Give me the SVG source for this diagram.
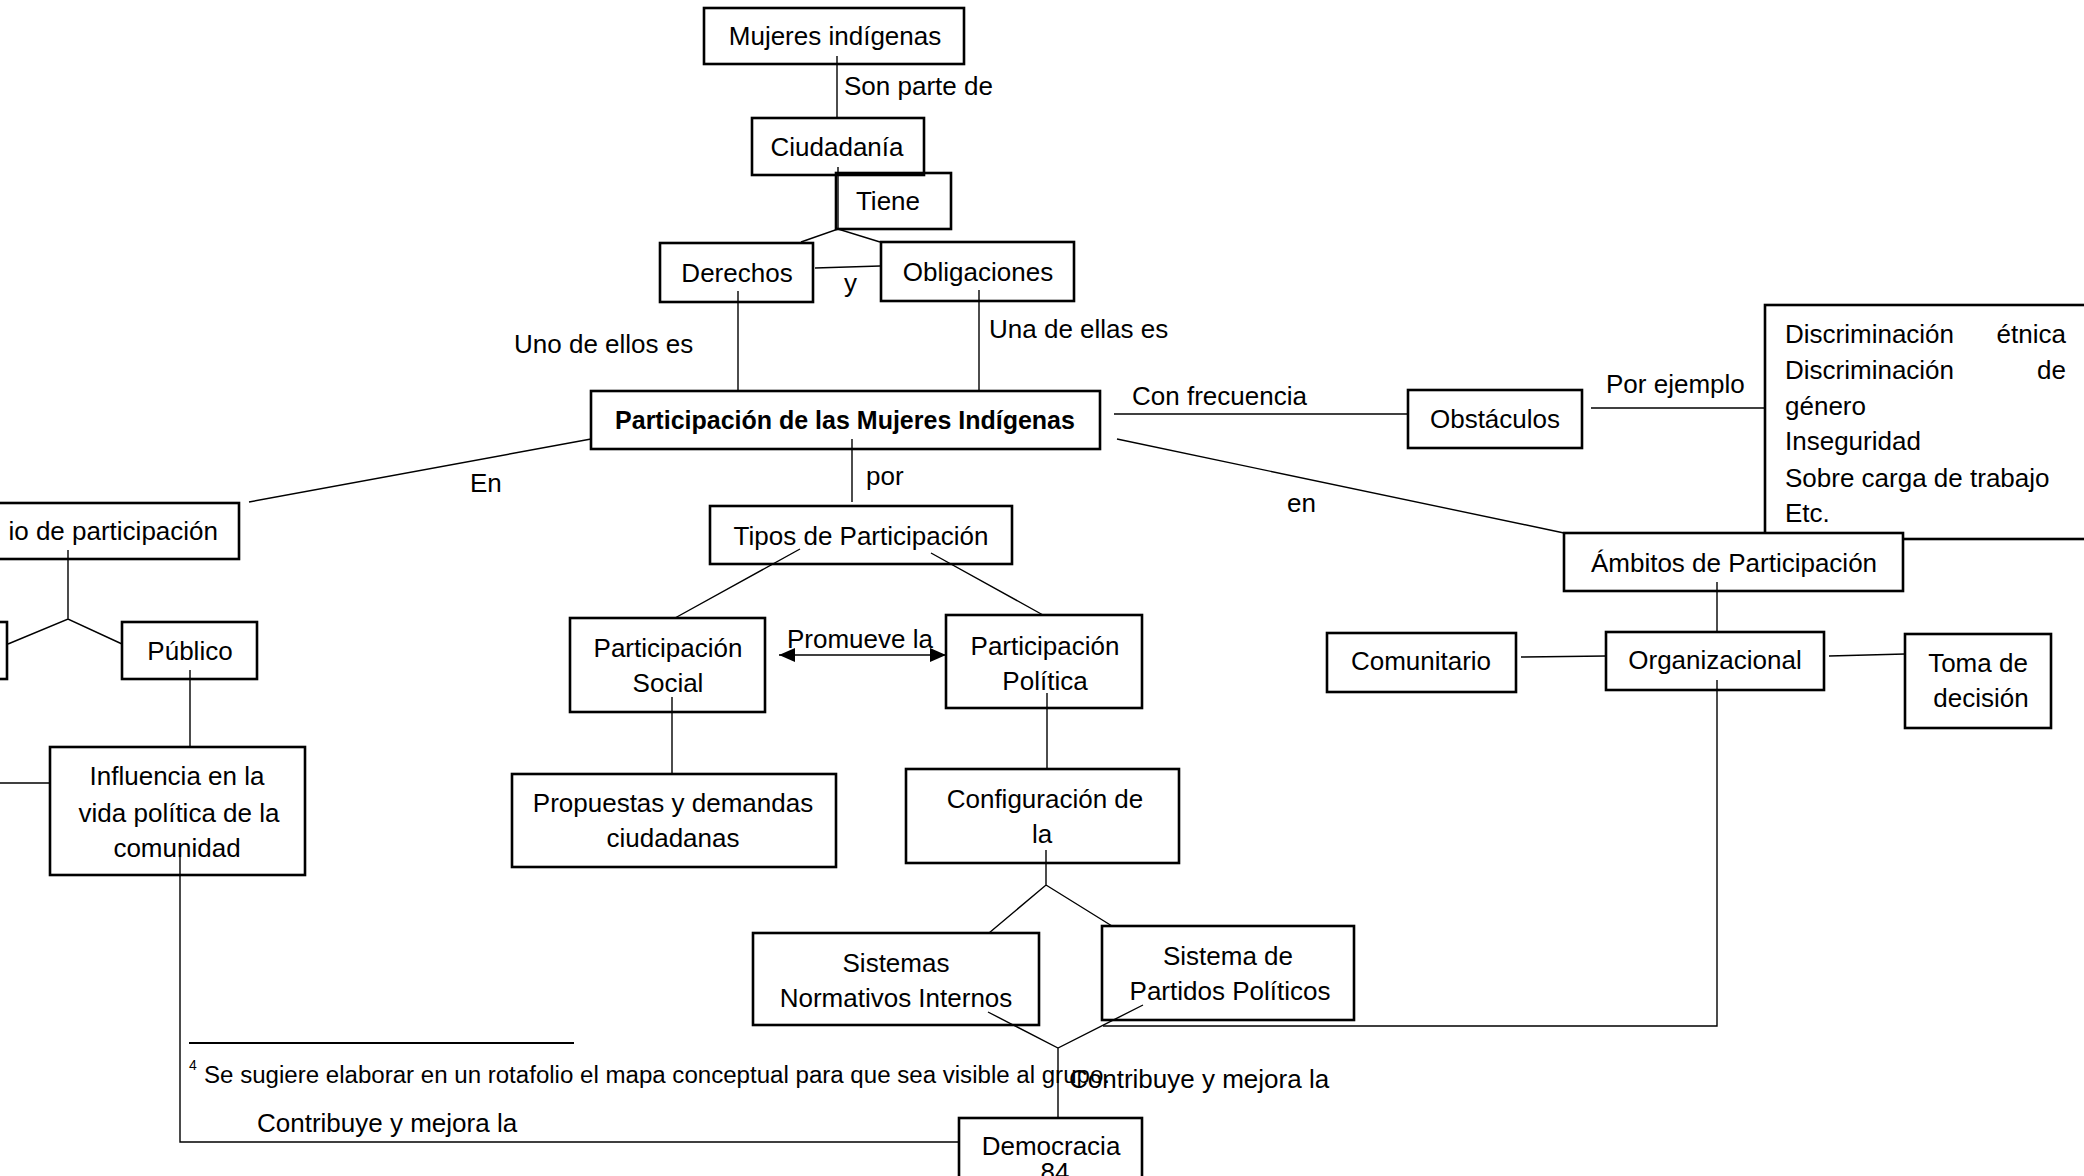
<svg xmlns="http://www.w3.org/2000/svg" width="2084" height="1176" viewBox="0 0 2084 1176">
<style>
text{font-family:"Liberation Sans",Arial,sans-serif;font-size:26px;fill:#000}
.c{text-anchor:middle}
.b{font-weight:bold;font-size:25px}
.box{fill:#fff;stroke:#000;stroke-width:2.6}
.ln{fill:none;stroke:#000;stroke-width:1.4}
.fn{font-size:23px}
</style>
<defs>
<marker id="ah" viewBox="0 0 16 14" refX="16" refY="7" markerWidth="16" markerHeight="14" markerUnits="userSpaceOnUse" orient="auto-start-reverse">
<path d="M0,0 L16,7 L0,14 Z" fill="#000"/>
</marker>
</defs>
<rect x="0" y="0" width="2084" height="1176" fill="#fff"/>

<g id="n-mujeres"><rect class="box" x="704" y="8" width="260" height="56"/><text class="c" x="835" y="45">Mujeres indígenas</text></g>
<g id="n-ciudadania"><rect class="box" x="752" y="118" width="172" height="57"/><text class="c" x="837" y="156">Ciudadanía</text></g>
<g id="n-tiene"><rect class="box" x="836" y="173" width="115" height="56" style="fill:none"/><text class="c" x="888" y="210">Tiene</text></g>
<g id="n-derechos"><rect class="box" x="660" y="243" width="153" height="59"/><text class="c" x="737" y="282">Derechos</text></g>
<g id="n-obligaciones"><rect class="box" x="881" y="242" width="193" height="59"/><text class="c" x="978" y="281">Obligaciones</text></g>
<g id="n-participacion"><rect class="box" x="591" y="391" width="509" height="58"/><text class="c b" x="845" y="429">Participación de las Mujeres Indígenas</text></g>
<g id="n-espacio"><rect class="box" x="-60" y="503" width="299" height="56"/><text x="218" y="540" text-anchor="end">io de participación</text></g>
<g id="n-privado"><rect class="box" x="-100" y="622" width="107" height="57"/></g>
<g id="n-publico"><rect class="box" x="122" y="622" width="135" height="57"/><text class="c" x="190" y="660">Público</text></g>
<g id="n-influencia"><rect class="box" x="50" y="747" width="255" height="128"/><text class="c" x="177" y="785">Influencia en la</text><text class="c" x="179" y="822">vida política de la</text><text class="c" x="177" y="857">comunidad</text></g>
<g id="n-tipos"><rect class="box" x="710" y="506" width="302" height="58"/><text class="c" x="861" y="545">Tipos de Participación</text></g>
<g id="n-social"><rect class="box" x="570" y="618" width="195" height="94"/><text class="c" x="668" y="657">Participación</text><text class="c" x="668" y="692">Social</text></g>
<g id="n-politica"><rect class="box" x="946" y="615" width="196" height="93"/><text class="c" x="1045" y="655">Participación</text><text class="c" x="1045" y="690">Política</text></g>
<g id="n-propuestas"><rect class="box" x="512" y="774" width="324" height="93"/><text class="c" x="673" y="812">Propuestas y demandas</text><text class="c" x="673" y="847">ciudadanas</text></g>
<g id="n-configuracion"><rect class="box" x="906" y="769" width="273" height="94"/><text class="c" x="1045" y="808">Configuración de</text><text class="c" x="1042" y="843">la</text></g>
<g id="n-sistemas"><rect class="box" x="753" y="933" width="286" height="92"/><text class="c" x="896" y="972">Sistemas</text><text class="c" x="896" y="1007">Normativos Internos</text></g>
<g id="n-partidos"><rect class="box" x="1102" y="926" width="252" height="94"/><text class="c" x="1228" y="965">Sistema de</text><text class="c" x="1230" y="1000">Partidos Políticos</text></g>
<g id="n-democracia"><rect class="box" x="959" y="1118" width="183" height="80"/><text class="c" x="1051" y="1155">Democracia</text><text class="c" x="1055" y="1181">84</text></g>
<g id="n-obstaculos"><rect class="box" x="1408" y="390" width="174" height="58"/><text class="c" x="1495" y="428">Obstáculos</text></g>
<g id="n-lista"><rect class="box" x="1765" y="305" width="340" height="234"/>
<text x="1785" y="343">Discriminación</text><text x="2066" y="343" text-anchor="end">étnica</text>
<text x="1785" y="379">Discriminación</text><text x="2066" y="379" text-anchor="end">de</text>
<text x="1785" y="415">género</text>
<text x="1785" y="450">Inseguridad</text>
<text x="1785" y="487">Sobre carga de trabajo</text>
<text x="1785" y="522">Etc.</text></g>
<g id="n-ambitos"><rect class="box" x="1564" y="533" width="339" height="58"/><text class="c" x="1734" y="572">Ámbitos de Participación</text></g>
<g id="n-comunitario"><rect class="box" x="1327" y="633" width="189" height="59"/><text class="c" x="1421" y="670">Comunitario</text></g>
<g id="n-organizacional"><rect class="box" x="1606" y="632" width="218" height="58"/><text class="c" x="1715" y="669">Organizacional</text></g>
<g id="n-toma"><rect class="box" x="1905" y="634" width="146" height="94"/><text class="c" x="1978" y="672">Toma de</text><text class="c" x="1981" y="707">decisión</text></g>

<g id="connectors">
<path class="ln" d="M837,56 V119"/>
<path class="ln" d="M838,167 V229 M801,242 L838,229 L880,242"/>
<path class="ln" d="M815,268 L880,266"/>
<path class="ln" d="M738,291 V391"/>
<path class="ln" d="M979,290 V391"/>
<path class="ln" d="M591,439 L249,502"/>
<path class="ln" d="M852,439 V502"/>
<path class="ln" d="M1114,414 H1408"/>
<path class="ln" d="M1591,408 H1765"/>
<path class="ln" d="M1117,439 L1564,533"/>
<path class="ln" d="M68,550 V619 M8,644 L68,619 L122,644"/>
<path class="ln" d="M190,670 V747"/>
<path class="ln" d="M0,783 H50"/>
<path class="ln" d="M180,855 V1142 H959"/>
<path class="ln" d="M800,549 L675,618 M931,553 L1043,615"/>
<line class="ln" x1="779" y1="655" x2="946" y2="655" marker-start="url(#ah)" marker-end="url(#ah)"/>
<path class="ln" d="M672,697 V774"/>
<path class="ln" d="M1047,693 V769"/>
<path class="ln" d="M1046,850 V885 M989,933 L1046,885 L1112,926"/>
<path class="ln" d="M988,1012 L1058,1048 L1143,1005 M1058,1048 V1118"/>
<path class="ln" d="M1717,582 V632"/>
<path class="ln" d="M1521,657 L1606,656"/>
<path class="ln" d="M1829,656 L1905,654"/>
<path class="ln" d="M1717,680 V1026 H1103"/>
</g>

<g id="labels">
<text x="844" y="95">Son parte de</text>
<text x="844" y="292">y</text>
<text x="514" y="353">Uno de ellos es</text>
<text x="989" y="338">Una de ellas es</text>
<text x="470" y="492">En</text>
<text x="866" y="485">por</text>
<text x="787" y="648">Promueve la</text>
<text x="1132" y="405">Con frecuencia</text>
<text x="1606" y="393">Por ejemplo</text>
<text x="1287" y="512">en</text>
<text x="1069" y="1088">Contribuye y mejora la</text>
<text x="257" y="1132">Contribuye y mejora la</text>
</g>

<g id="footnote">
<line x1="189" y1="1043" x2="574" y2="1043" stroke="#000" stroke-width="2"/>
<text x="189" y="1070" style="font-size:14px">4</text>
<text class="fn" x="204" y="1083" textLength="906" lengthAdjust="spacingAndGlyphs">Se sugiere elaborar en un rotafolio el mapa conceptual para que sea visible al grupo.</text>
</g>
</svg>
